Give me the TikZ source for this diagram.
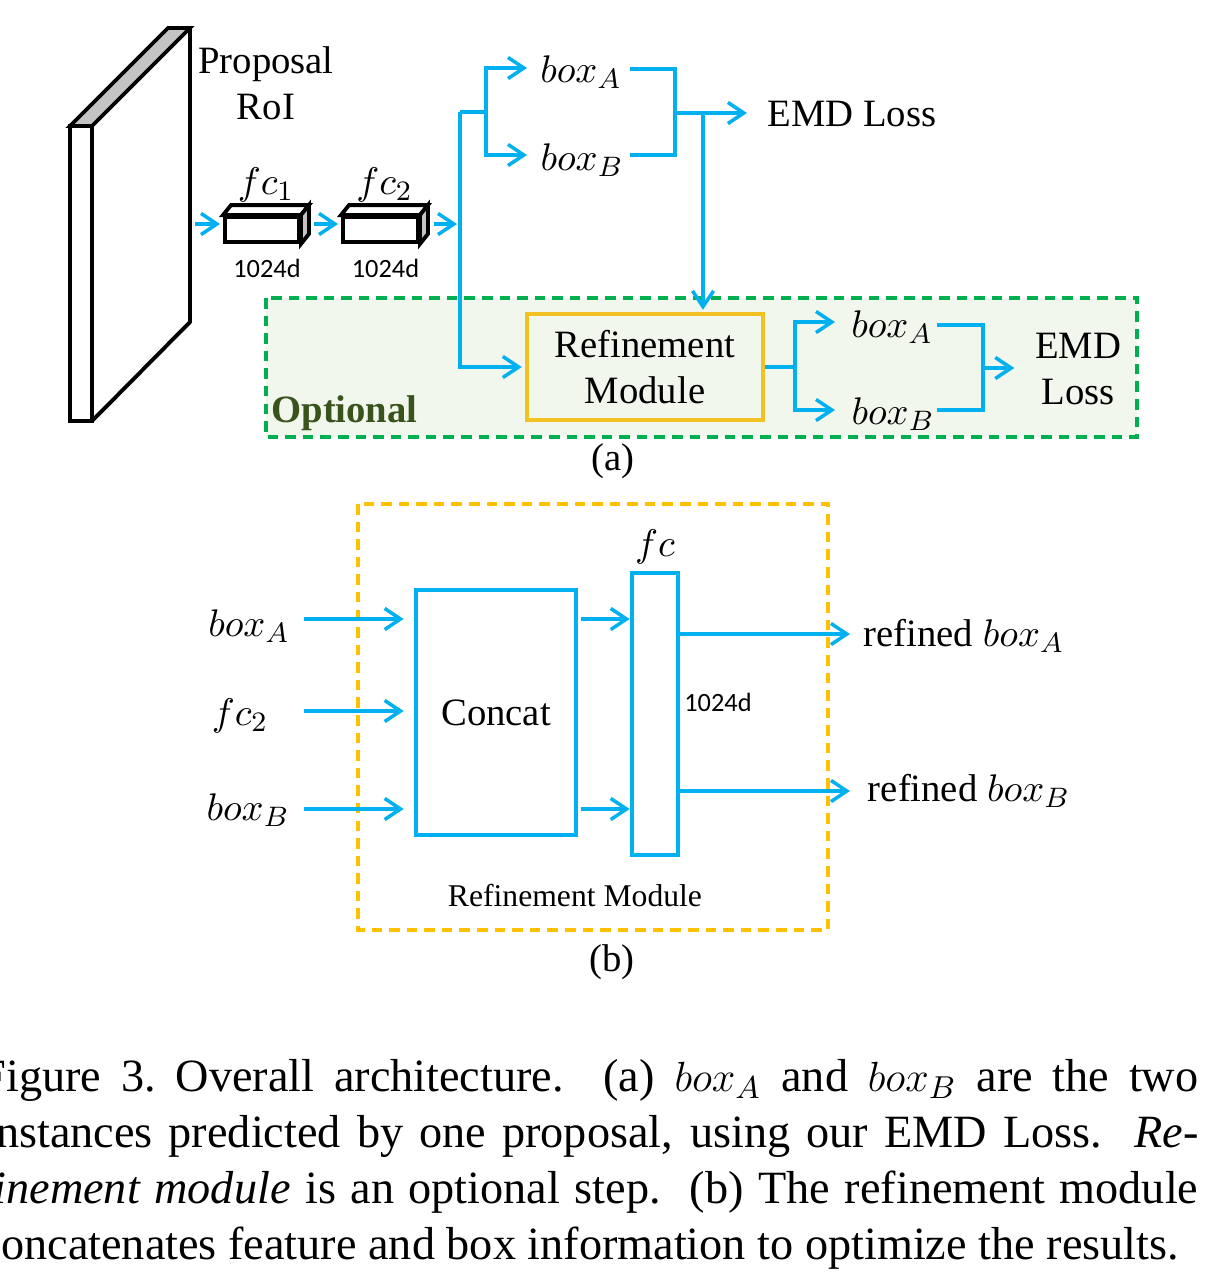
\documentclass[tikz,border=0pt]{standalone}
\usepackage{fontspec}
\setmainfont{Liberation Serif}
\newfontfamily\dimfont{Carlito}
\usetikzlibrary{arrows.meta}

\definecolor{arrowblue}{RGB}{0,176,240}
\definecolor{optgreen}{RGB}{0,176,80}
\definecolor{optfill}{RGB}{242,247,238}
\definecolor{opttext}{RGB}{58,82,28}
\definecolor{refgold}{RGB}{242,194,36}
\definecolor{modorange}{RGB}{255,192,0}
\definecolor{sidegray}{RGB}{196,196,196}

\tikzset{
  wire/.style={draw=arrowblue, line width=1pt},
  arr/.style={wire, -{Straight Barb[length=4.5pt,width=6pt]}},
  lbl/.style={inner sep=0pt, font=\fontsize{11}{13.1}\selectfont},
  dimlbl/.style={inner sep=0pt, font=\dimfont\fontsize{7.5}{9}\selectfont},
  slabline/.style={line width=1.1pt},
  fcface/.style={draw, line width=1.1pt, fill=white, minimum height=0.25cm, inner sep=0pt},
  refbox/.style={draw=refgold, line width=1.2pt, fill=optfill, minimum width=2.36cm,
    minimum height=1.06cm, align=center, font=\fontsize{11}{13.1}\selectfont},
  layerbox/.style={draw=arrowblue, line width=1.3pt, fill=white, inner sep=0pt},
  optframe/.style={draw=optgreen, fill=optfill, line width=1pt, dash pattern=on 3pt off 2pt},
  modframe/.style={draw=modorange, line width=1pt, dash pattern=on 3pt off 2pt},
  caprow/.style={inner sep=0pt, anchor=base west, font=\fontsize{13.15}{16}\selectfont}
}

\begin{document}
\begin{tikzpicture}[x=0.01cm, y=-0.01cm]
    \clip (0,0) rectangle (1214,1281);

    % (a) Optional stage
    \draw[optframe] (266,298) rectangle (1137,437);
    \node[inner sep=0pt, font=\fontsize{11}{13.1}\selectfont\bfseries, text=opttext] (opt) at (344.5,413) {Optional};

    % RoI slab
    \draw[slabline, fill=white] (70,126) rectangle (92,421);
    \draw[slabline] (92,421) -- (190,322) -- (190,28);
    \draw[slabline, fill=sidegray] (70,126) -- (168,28) -- (190,28) -- (92,126) -- cycle;
    \node[lbl, align=center] (roilbl) at (266,83) {Proposal\\RoI};

    % fc layers
    \foreach \n/\x/\w/\i in {fc1/262/0.74cm/1, fc2/380.5/0.75cm/2} {
        \node[fcface, minimum width=\w] (\n) at (\x,229.5) {};
        \draw[slabline, fill=white] (\n.north west) -- ++(8,-10) -- ([shift={(8,-10)}]\n.north east) -- (\n.north east) -- cycle;
        \draw[slabline, fill=sidegray] (\n.north east) -- ++(8,-10) -- ([shift={(8,-10)}]\n.south east) -- (\n.south east) -- cycle;
        \node[lbl] (\n lbl) at (\x+4,185) {$fc_{\i}$};
        \node[dimlbl] (\n dim) at (\x+5,268) {1024d};
    }

    \coordinate (roiR) at (190,224);
    \coordinate (bus) at (460,224);
    \draw[arr, shorten <=0.05cm, shorten >=0.03cm] (roiR) -- (roiR -| fc1.west);
    \draw[arr, shorten <=0.13cm, shorten >=0.03cm] (fc1.east |- roiR) -- (roiR -| fc2.west);
    \draw[arr, shorten <=0.14cm, shorten >=0.03cm] (fc2.east |- roiR) -- (bus);

    % first prediction
    \coordinate (split) at (460,112);
    \coordinate (fork) at (486,112);
    \coordinate (tipA1) at (527,68);
    \coordinate (tipB1) at (527,155);
    \node[lbl] (boxA1) at (581,72) {$box_A$};
    \node[lbl] (boxB1) at (582,160) {$box_B$};
    \draw[wire] (split) -- (fork);
    \draw[arr] (fork) |- (tipA1);
    \draw[arr] (fork) |- (tipB1);

    \coordinate (endA1) at (630,69);
    \coordinate (endB1) at (630,155);
    \coordinate (joinA) at (675,113);
    \coordinate (drop) at (703,113);
    \node[lbl] (emd1) at (852,114) {EMD Loss};
    \draw[wire] (endA1) -| (joinA) |- (endB1);
    \draw[arr, shorten >=0.2cm] (joinA) -- (emd1.west |- joinA);

    % refinement stage
    \node[refbox] (refmod) at (645,367) {Refinement\\Module};
    \draw[arr, shorten >=0.03cm] (split) |- (refmod.west);
    \draw[arr, shorten >=0.02cm] (drop) -- (drop |- refmod.north);

    \coordinate (fork2) at (795,367);
    \coordinate (tipA2) at (835,322);
    \coordinate (tipB2) at (835,410);
    \node[lbl] (boxA2) at (892,327) {$box_A$};
    \node[lbl] (boxB2) at (893,414) {$box_B$};
    \draw[wire] (refmod.east) -- (fork2);
    \draw[arr] (fork2) |- (tipA2);
    \draw[arr] (fork2) |- (tipB2);

    \coordinate (endA2) at (937,325);
    \coordinate (endB2) at (937,410);
    \coordinate (joinB) at (983,368);
    \node[lbl, align=center] (emd2) at (1078,369) {EMD\\Loss};
    \draw[wire] (endA2) -| (joinB) |- (endB2);
    \draw[arr, shorten >=0.2cm] (joinB) -- (emd2.west |- joinB);

    \node[lbl] (suba) at (613,461) {(a)};

    % (b) Refinement module
    \draw[modframe] (358,504) rectangle (828,930);
    \node[layerbox, minimum width=1.6cm, minimum height=2.45cm, font=\fontsize{11}{13.1}\selectfont] (concat) at (496,712.5) {Concat};
    \node[layerbox, minimum width=0.46cm, minimum height=2.82cm] (fcb) at (655,714) {};
    \node[lbl] (fcblbl) at (655,547) {$fc$};
    \node[dimlbl] (fcbdim) at (718,702) {1024d};

    \node[lbl] (boxA3) at (249,626) {$box_A$};
    \node[lbl] (fc2b) at (240,716) {$fc_2$};
    \node[lbl] (boxB3) at (248,810) {$box_B$};
    \coordinate (inA) at (304,619);
    \coordinate (inF) at (304,711);
    \coordinate (inB) at (304,809);
    \foreach \c in {inA,inF,inB}
        \draw[arr, shorten >=0.1cm] (\c) -- (\c -| concat.west);
    \draw[arr, shorten <=0.03cm] (concat.east |- inA) -- (inA -| fcb.west);
    \draw[arr, shorten <=0.03cm] (concat.east |- inB) -- (inB -| fcb.west);

    \coordinate (outA) at (850,634);
    \coordinate (outB) at (850,791);
    \draw[arr] (fcb.east |- outA) -- (outA);
    \draw[arr] (fcb.east |- outB) -- (outB);
    \node[lbl] (refA) at (964,636) {refined $box_A$};
    \node[lbl] (refB) at (969,791) {refined $box_B$};

    \node[inner sep=0pt, font=\fontsize{9}{11}\selectfont] (modname) at (575,895) {Refinement Module};
    \node[lbl] (subb) at (612,962) {(b)};

    % caption
    \node[caprow] (cap1) at (-20,1091) {\makebox[12.17cm][s]{Figure 3.\ Overall architecture.\ \ (a) $box_A$ and $box_B$ are the two}};
    \node[caprow] (cap2) at (-20,1147) {\makebox[12.17cm][s]{Instances predicted by one proposal, using our EMD Loss.\ \ \textit{Re-}}};
    \node[caprow] (cap3) at (-20,1203) {\makebox[12.17cm][s]{\textit{finement module} is an optional step.\ \ (b) The refinement module}};
    \node[caprow] (cap4) at (-20,1259) {concatenates feature and box information to optimize the results.};

\end{tikzpicture}
\end{document}
